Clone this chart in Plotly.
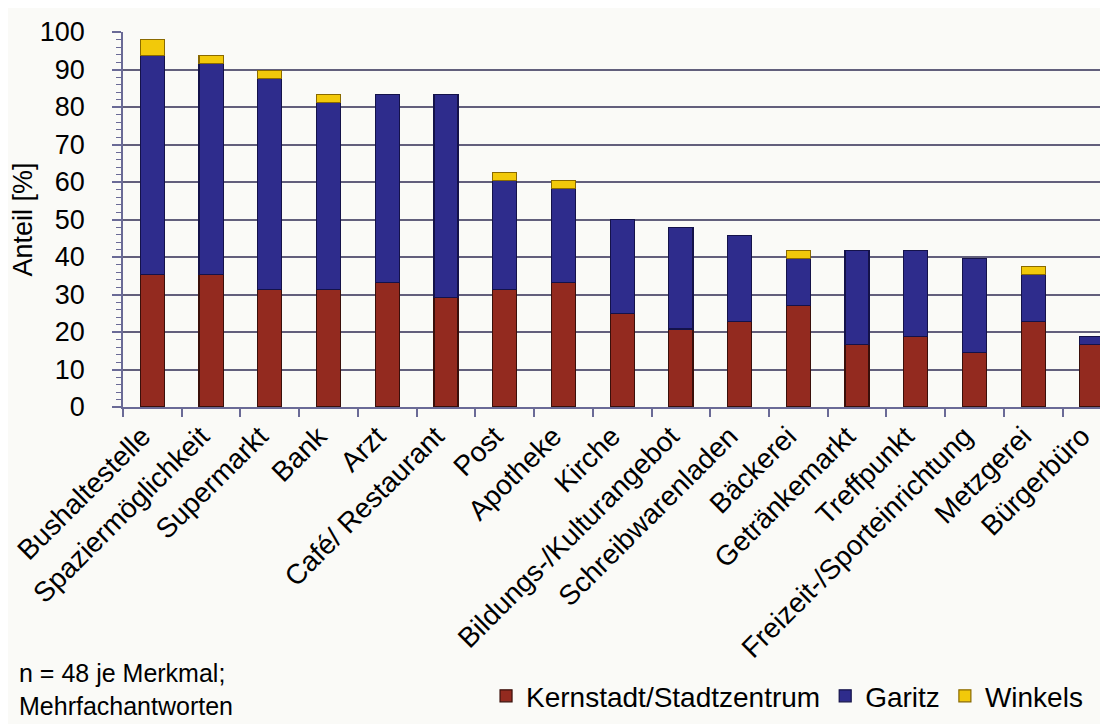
import plotly.graph_objects as go

categories = ["Bushaltestelle", "Spaziermöglichkeit", "Supermarkt", "Bank", "Arzt",
              "Café/ Restaurant", "Post", "Apotheke", "Kirche", "Bildungs-/Kulturangebot",
              "Schreibwarenladen", "Bäckerei", "Getränkemarkt", "Treffpunkt",
              "Freizeit-/Sporteinrichtung", "Metzgerei", "Bürgerbüro"]
kernstadt = [35.4, 35.4, 31.3, 31.3, 33.3, 29.2, 31.3, 33.3, 25.0, 20.8, 22.9, 27.1, 16.7, 18.8, 14.6, 22.9, 16.7]
garitz = [58.3, 56.3, 56.3, 50.0, 50.0, 54.2, 29.2, 25.0, 25.0, 27.1, 22.9, 12.5, 25.0, 22.9, 25.0, 12.5, 2.1]
winkels = [4.2, 2.1, 2.1, 2.1, 0.0, 0.0, 2.1, 2.1, 0.0, 0.0, 0.0, 2.1, 0.0, 0.0, 0.0, 2.1, 0.0]
series_names = ["Kernstadt/Stadtzentrum", "Garitz", "Winkels"]
y_ticks = [0, 10, 20, 30, 40, 50, 60, 70, 80, 90, 100]

FONT = "Liberation Sans, Arial, sans-serif"
colors = ["#932a1f", "#2e2c8c", "#f2c90a"]
edges = ["#3a0f0a", "#14124a", "#8a6a00"]

fig = go.Figure()
for name, vals, c, e in zip(series_names, [kernstadt, garitz, winkels], colors, edges):
    fig.add_trace(go.Bar(x=categories, y=[v if v > 0 else None for v in vals], name=name, width=0.41,
                         marker=dict(color=c, line=dict(color=e, width=1.2))))

fig.update_layout(
    width=1108, height=724,
    barmode="stack",
    paper_bgcolor="#fafaf7", plot_bgcolor="#fafaf7",
    margin=dict(l=115, r=0, t=24, b=325, autoexpand=False),
    font=dict(family=FONT, size=28, color="#000000"),
    showlegend=True,
    legend=dict(orientation="h", x=0.3656, xanchor="left", y=-0.771, yanchor="middle",
                font=dict(size=28), itemwidth=30, bgcolor="rgba(0,0,0,0)",
                traceorder="normal"),
    annotations=[
        dict(text="n = 48 je Merkmal;<br>Mehrfachantworten", xref="paper", yref="paper",
             x=-0.106, y=-0.838, xanchor="left", yanchor="bottom", align="left",
             showarrow=False, font=dict(size=25), borderpad=0),
    ],
)
fig.update_xaxes(
    type="category", range=[-0.5, 16.41], tickangle=-45, tickson="boundaries",
    ticks="outside", ticklen=8, tickcolor="#6a6a96", tickwidth=1.5,
    showline=True, linecolor="#6a6a96", linewidth=1.5, showgrid=False,
    tickfont=dict(size=28), ticklabelshift=-10,
)
fig.update_yaxes(
    range=[0, 100], tickvals=y_ticks, ticks="outside", ticklen=9, tickcolor="#6a6a96", tickwidth=1.5,
    showline=True, linecolor="#6a6a96", linewidth=1.5,
    showgrid=True, gridcolor="#625f7c", gridwidth=1.8, zeroline=False,
    minor=dict(dtick=2, ticks="outside", ticklen=5, tickcolor="#6a6a96", tickwidth=1.2, showgrid=False),
    tickfont=dict(size=27), ticklabelstandoff=22,
    title=dict(text="Anteil [%]", font=dict(size=27), standoff=4),
)
fig.write_html("out.html")
